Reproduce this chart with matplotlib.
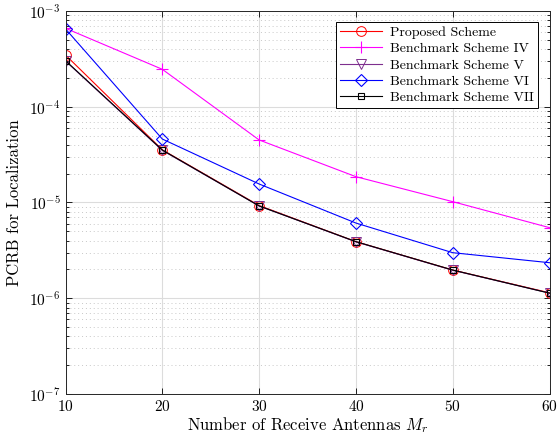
import numpy as np
import matplotlib
matplotlib.use("Agg")
import matplotlib.pyplot as plt
from matplotlib.ticker import FuncFormatter, LogLocator, NullFormatter

# data
antennas = [10, 20, 30, 40, 50, 60]
proposed = [3.47e-4, 3.55e-5, 9.3e-6, 3.9e-6, 1.97e-6, 1.14e-6]
bench_iv = [6.6e-4, 2.46e-4, 4.5e-5, 1.86e-5, 1.02e-5, 5.46e-6]
bench_v = [3.0e-4, 3.5e-5, 9.2e-6, 3.88e-6, 1.96e-6, 1.13e-6]
bench_vi = [6.5e-4, 4.6e-5, 1.56e-5, 6.1e-6, 2.99e-6, 2.35e-6]
bench_vii = [3.03e-4, 3.53e-5, 9.2e-6, 3.9e-6, 1.97e-6, 1.13e-6]

plt.rcParams['mathtext.fontset'] = 'cm'
plt.rcParams['font.family'] = 'cmr10'
plt.rcParams['axes.unicode_minus'] = False

fig = plt.figure(figsize=(5.58, 4.38), dpi=100)
ax = fig.add_axes([0.1174, 0.1005, 0.8674, 0.8744])

lw = 0.8
ax.plot(antennas, proposed, '-o', color='red', lw=lw, ms=7, mfc='none', mew=0.7, label='Proposed Scheme')
ax.plot(antennas, bench_iv, '-+', color='#FF00FF', lw=lw, ms=8, mew=0.8, label='Benchmark Scheme IV')
ax.plot(antennas, bench_v, '-v', color='#7E2F8E', lw=lw, ms=7, mfc='none', mew=0.7, label='Benchmark Scheme V')
ax.plot(antennas, bench_vi, '-D', color='blue', lw=lw, ms=6.5, mfc='none', mew=0.8, label='Benchmark Scheme VI')
ax.plot(antennas, bench_vii, '-s', color='black', lw=lw, ms=5, mfc='none', mew=0.8, label='Benchmark Scheme VII')

ax.set_yscale('log')
ax.set_xlim(10, 60)
ax.set_ylim(1e-7, 1e-3)
ax.set_xticks([10, 20, 30, 40, 50, 60])
ax.yaxis.set_major_locator(LogLocator(base=10, numticks=10))
ax.yaxis.set_minor_locator(LogLocator(base=10, subs=np.arange(2, 10), numticks=20))
ax.yaxis.set_minor_formatter(NullFormatter())

def ylab(v, pos):
    e = int(round(np.log10(v)))
    return r'$\mathsf{10^{%d}}$' % e

ax.yaxis.set_major_formatter(FuncFormatter(ylab))
ax.xaxis.set_major_formatter(FuncFormatter(lambda v, p: r'$\mathsf{%d}$' % v))

ax.tick_params(which='both', direction='in', top=True, right=True, labelsize=11, width=0.6)
ax.tick_params(which='major', length=4)
ax.tick_params(which='minor', length=2)

ax.grid(True, which='major', color='#dcdcdc', lw=0.8)
ax.grid(True, which='minor', axis='y', color='#c8c8c8', lw=0.7, ls=(0, (1, 3)))
ax.set_axisbelow(True)
for s in ax.spines.values():
    s.set_linewidth(0.7)
    s.set_color('#262626')

ax.set_xlabel(r'Number of Receive Antennas $M_r$', fontsize=12, labelpad=1)
ax.set_ylabel('PCRB for Localization', fontsize=12, labelpad=5)

leg = ax.legend(loc='upper right', fontsize=10, fancybox=False, framealpha=1,
                edgecolor='black', borderaxespad=0.8, handlelength=3.0,
                labelspacing=0.26, borderpad=0.3, handletextpad=0.6)
leg.get_frame().set_linewidth(0.7)

fig.savefig('out.png', dpi=100)
